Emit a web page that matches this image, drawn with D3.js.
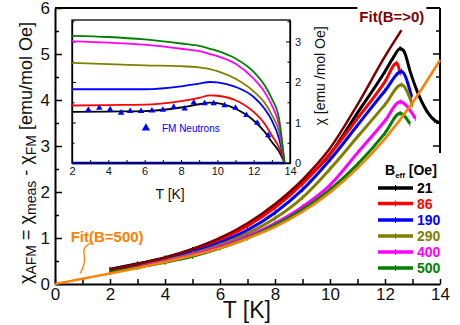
<!DOCTYPE html>
<html><head><meta charset="utf-8">
<script src="https://cdn.jsdelivr.net/npm/d3@7"></script>
<style>
body{margin:0;background:#fff}
svg{display:block;font-family:Arial,"Liberation Sans",sans-serif}
</style>
</head><body>
<svg id="c" width="460" height="325"></svg>
<script>
// ---------- main plot data ----------
const xTicksMain = [0,2,4,6,8,10,12,14];
const yTicksMain = [0,1,2,3,4,5,6];
const seriesNames = ["21","86","190","290","400","500"];
const seriesColors = ["#000000","#ff0000","#0000ff","#808000","#ff00ff","#008000"];
const tBase = [2,3,4,5,6,7,8,9,10,11,12];
const t21 = tBase.concat([12.3,12.55,12.7,12.9,13.15,13.5,13.8,14]);
const v21 = [0.32,0.44,0.57,0.75,0.98,1.28,1.68,2.2,2.82,3.72,4.62,4.92,5.12,5.05,4.65,4.22,3.78,3.56,3.5];
const t86 = tBase.concat([12.42,12.55]);
const v86 = [0.3,0.42,0.55,0.73,0.96,1.26,1.66,2.18,2.83,3.6,4.4,4.8,4.58];
const t190 = tBase.concat([12.6,12.97]);
const v190 = [0.29,0.41,0.53,0.69,0.9,1.17,1.55,2.05,2.7,3.45,4.2,4.62,4.07];
const t290 = tBase.concat([12.6,13.0]);
const v290 = [0.28,0.39,0.51,0.66,0.85,1.1,1.43,1.88,2.5,3.2,3.9,4.33,3.89];
const t400 = tBase.concat([12.55,13.1]);
const v400 = [0.27,0.38,0.49,0.63,0.81,1.04,1.32,1.68,2.15,2.85,3.55,3.96,3.6];
const t500 = tBase.concat([12.55,12.9]);
const v500 = [0.26,0.36,0.47,0.6,0.78,1.0,1.28,1.62,2.05,2.6,3.28,3.71,3.49];
const tFit0 = [2,3,4,5,6,7,8,9,10,11,12,12.6];
const vFit0 = [0.31,0.43,0.57,0.76,1.0,1.32,1.74,2.27,2.95,3.9,4.95,5.52];
const tFit500 = [0,1,2,3,4,5,6,7,8,9,10,11,12,13,14];
const vFit500 = [0,0.115,0.23,0.35,0.48,0.62,0.78,0.99,1.24,1.57,1.99,2.52,3.16,3.94,4.87];

// ---------- inset data ----------
const insetXTicks = [2,4,6,8,10,12,14];
const insetYTicks = [0,1,2,3];
const tIn = [2,4,6,8,9,9.6,10,11,12,12.6,13,13.4,13.7];
const in21  = [1.26,1.27,1.28,1.37,1.45,1.49,1.48,1.34,1.05,0.77,0.52,0.28,0];
const in86  = [1.42,1.43,1.44,1.53,1.61,1.67,1.66,1.55,1.26,0.97,0.68,0.38,0];
const in190 = [1.82,1.82,1.82,1.89,1.96,2.0,1.99,1.88,1.63,1.34,1.05,0.6,0];
const in290 = [2.47,2.44,2.41,2.39,2.36,2.32,2.27,2.08,1.77,1.49,1.19,0.77,0];
const in400 = [3.0,2.97,2.92,2.82,2.76,2.69,2.64,2.45,2.08,1.75,1.42,0.93,0];
const in500 = [3.14,3.11,3.05,2.95,2.89,2.82,2.77,2.58,2.25,1.92,1.59,1.09,0];
const tNeutron = [2.9,3.5,4.1,4.7,5.2,5.8,6.4,7.0,7.6,8.2,8.7,9.3,9.8,10.4,11.0,11.6,12.2,12.8];
const vNeutron = [1.31,1.36,1.32,1.24,1.28,1.28,1.29,1.31,1.38,1.34,1.49,1.47,1.47,1.42,1.36,1.18,0.99,0.68];
const tAFMn = [2,13.7];
const vAFMn = [0,0];

// ---------- scales ----------
const svg = d3.select("#c");
const x = d3.scaleLinear([0,14],[55,440]);
const y = d3.scaleLinear([0,6],[284,8]);
const ix = d3.scaleLinear([2,14],[72,290]);
const iy = d3.scaleLinear([0,3.53],[163,20]);

const zip = (a,b)=>a.map((d,i)=>[d,b[i]]);
const lineMain = d3.line().x(d=>x(d[0])).y(d=>y(d[1])).curve(d3.curveMonotoneX);
const lineIn = d3.line().x(d=>ix(d[0])).y(d=>iy(d[1])).curve(d3.curveMonotoneX);

// ---------- main axes ----------
const gx = svg.append("g").attr("transform",`translate(0,${y(0)})`)
  .call(d3.axisBottom(x).tickValues(d3.range(0,15)).tickSize(-5).tickSizeOuter(0).tickPadding(4)
    .tickFormat(d=>xTicksMain.includes(d)?d:""));
const gy = svg.append("g").attr("transform",`translate(${x(0)},0)`)
  .call(d3.axisLeft(y).tickValues(d3.range(0,6.01,0.5)).tickSize(-5).tickSizeOuter(0).tickPadding(5)
    .tickFormat(d=>yTicksMain.includes(d)?d:""));
gy.selectAll(".tick line").attr("x2",d=>Number.isInteger(d)?7:4);
[gx,gy].forEach(g=>{
  g.selectAll(".domain").attr("stroke","#000").attr("stroke-width",2);
  g.selectAll(".tick line").attr("stroke","#000").attr("stroke-width",1.5);
  g.selectAll("text").attr("font-size",17).attr("fill","#111").attr("font-family","Arial, Liberation Sans, sans-serif");
});
// top frame line
svg.append("line").attr("x1",x(0)).attr("x2",x(14)).attr("y1",y(6)).attr("y2",y(6)).attr("stroke","#000").attr("stroke-width",2);
// right axis (partial)
svg.append("line").attr("x1",x(14)).attr("x2",x(14)).attr("y1",y(6)).attr("y2",y(2.85)).attr("stroke","#000").attr("stroke-width",2);
d3.range(3,6.01,0.5).forEach(v=>{
  svg.append("line").attr("x1",x(14)).attr("x2",x(14)-(Number.isInteger(v)?7:4))
    .attr("y1",y(v)).attr("y2",y(v)).attr("stroke","#000").attr("stroke-width",1.5);
});

// ---------- main curves ----------
const mainSeries = [[t21,v21],[t86,v86],[t190,v190],[t290,v290],[t400,v400],[t500,v500]];
mainSeries.forEach((s,i)=>{
  svg.append("path").attr("d",lineMain(zip(s[0],s[1]))).attr("fill","none")
    .attr("stroke",seriesColors[i]).attr("stroke-width",3);
  svg.append("g").selectAll("line").data(zip(s[0],s[1])).join("line")
    .attr("x1",d=>x(d[0])).attr("x2",d=>x(d[0]))
    .attr("y1",d=>y(d[1])-2.5).attr("y2",d=>y(d[1])+2.5)
    .attr("stroke",seriesColors[i]).attr("stroke-width",1);
});
svg.append("path").attr("d",lineMain(zip(tFit0,vFit0))).attr("fill","none").attr("stroke","#800000").attr("stroke-width",2.5);
svg.append("path").attr("d",lineMain(zip(tFit500,vFit500))).attr("fill","none").attr("stroke","#ff8000").attr("stroke-width",2.5);

// annotations
const fitBg = svg.append("rect").attr("fill","#fff");
const fitTop = svg.append("text").attr("x",x(12.25)).attr("y",y(5.7)).attr("text-anchor","middle")
  .attr("font-size",15).attr("font-weight","bold").attr("fill","#800000").text("Fit(B=>0)");
const bb = fitTop.node().getBBox();
fitBg.attr("x",bb.x-2).attr("y",bb.y-2).attr("width",bb.width+4).attr("height",bb.height);
svg.append("text").attr("x",x(0.57)).attr("y",y(0.91)).attr("font-size",15).attr("font-weight","bold")
  .attr("fill","#ff8000").text("Fit(B=500)");
const squigT = [1.33,1.08,1.03,1.1,1.0,0.91];
const squigV = [0.9,0.82,0.72,0.5,0.32,0.23];
svg.append("path").attr("d",d3.line().x(d=>x(d[0])).y(d=>y(d[1])).curve(d3.curveBasis)(zip(squigT,squigV)))
  .attr("fill","none").attr("stroke","#ff8000").attr("stroke-width",1.3);

// axis titles
svg.append("text").attr("x",x(6.1)).attr("y",318).attr("font-size",23).attr("fill","#111")
  .attr("style","white-space:pre").text("T [K]");
const yl = svg.append("text").attr("transform","translate(32,153) rotate(-90)").attr("text-anchor","middle")
  .attr("font-size",18).attr("fill","#111");
yl.append("tspan").text("χ");
yl.append("tspan").attr("font-size",14).attr("dy",4).text("AFM");
yl.append("tspan").attr("dy",-4).text(" = χ");
yl.append("tspan").attr("font-size",14).attr("dy",4).text("meas");
yl.append("tspan").attr("dy",-4).text(" - χ");
yl.append("tspan").attr("font-size",14).attr("dy",4).text("FM");
yl.append("tspan").attr("dy",-4).text(" [emu/mol Oe]");

// ---------- legend ----------
const legY = [188,203.5,220,236,252,268];
svg.append("text").attr("x",385).attr("y",175).attr("font-size",14).attr("font-weight","bold").attr("fill","#000")
  .call(t=>{t.append("tspan").text("B");t.append("tspan").attr("font-size",8).attr("dy",3).text("eff");t.append("tspan").attr("dy",-3).text(" [Oe]");});
seriesNames.forEach((n,i)=>{
  svg.append("line").attr("x1",378).attr("x2",413).attr("y1",legY[i]).attr("y2",legY[i])
    .attr("stroke",seriesColors[i]).attr("stroke-width",3.5);
  svg.append("line").attr("x1",395.5).attr("x2",395.5).attr("y1",legY[i]-3).attr("y2",legY[i]+3)
    .attr("stroke",seriesColors[i]).attr("stroke-width",1);
  svg.append("text").attr("x",417).attr("y",legY[i]+5).attr("font-size",14).attr("font-weight","bold")
    .attr("fill",seriesColors[i]).text(n);
});

// ---------- inset ----------
const gi = svg.append("g");
gi.append("rect").attr("x",ix(2)).attr("y",iy(3.53)).attr("width",ix(14)-ix(2)).attr("height",iy(0)-iy(3.53))
  .attr("fill","#fff").attr("stroke","#000").attr("stroke-width",1.3);
const gix = gi.append("g").attr("transform",`translate(0,${iy(0)})`)
  .call(d3.axisBottom(ix).tickValues(d3.range(2,15)).tickSize(-3).tickSizeOuter(0).tickPadding(4)
    .tickFormat(d=>insetXTicks.includes(d)?d:""));
const giy = gi.append("g").attr("transform",`translate(${ix(14)},0)`)
  .call(d3.axisRight(iy).tickValues(d3.range(0,3.51,0.5)).tickSize(-3).tickSizeOuter(0).tickPadding(5)
    .tickFormat(d=>insetYTicks.includes(d)?d:""));
giy.selectAll(".tick line").attr("x2",d=>Number.isInteger(d)?-4:-2.5);
const giyl = gi.append("g").attr("transform",`translate(${ix(2)},0)`)
  .call(d3.axisLeft(iy).tickValues(d3.range(0,3.51,0.5)).tickSize(-3).tickSizeOuter(0).tickFormat(""));
giyl.selectAll(".tick line").attr("x2",d=>Number.isInteger(d)?4:2.5);
[gix,giy,giyl].forEach(g=>{
  g.selectAll(".domain").attr("stroke","#000").attr("stroke-width",1.3);
  g.selectAll(".tick line").attr("stroke","#000");
  g.selectAll("text").attr("font-size",11).attr("fill","#111").attr("font-family","Arial, Liberation Sans, sans-serif");
});
const insetSeries = [in21,in86,in190,in290,in400,in500];
insetSeries.forEach((s,i)=>{
  gi.append("path").attr("d",lineIn(zip(tIn,s))).attr("fill","none").attr("stroke",seriesColors[i]).attr("stroke-width",1.8);
});
gi.append("path").attr("d",lineIn(zip(tAFMn,vAFMn))).attr("fill","none").attr("stroke","#000080").attr("stroke-width",2.5);
const tri = d3.symbol().type(d3.symbolTriangle).size(18);
gi.selectAll("path.tri").data(zip(tNeutron,vNeutron)).join("path").attr("class","tri")
  .attr("d",tri).attr("transform",d=>`translate(${ix(d[0])},${iy(d[1])})`).attr("fill","#0000ff");
gi.append("path").attr("d",d3.symbol().type(d3.symbolTriangle).size(30)).attr("transform",`translate(${ix(6.07)},${iy(0.86)})`).attr("fill","#0000ff");
gi.append("text").attr("x",ix(6.95)).attr("y",iy(0.86)+4).attr("font-size",10).attr("fill","#0000ff").text("FM Neutrons");
gi.append("text").attr("x",ix(7.4)).attr("y",199).attr("text-anchor","middle").attr("font-size",14).attr("fill","#111").text("T [K]");
gi.append("text").attr("transform",`translate(325,${iy(2.15)}) rotate(-90)`).attr("text-anchor","middle")
  .attr("font-size",14).attr("fill","#111").text("χ [emu /mol Oe]");
</script>
</body></html>
